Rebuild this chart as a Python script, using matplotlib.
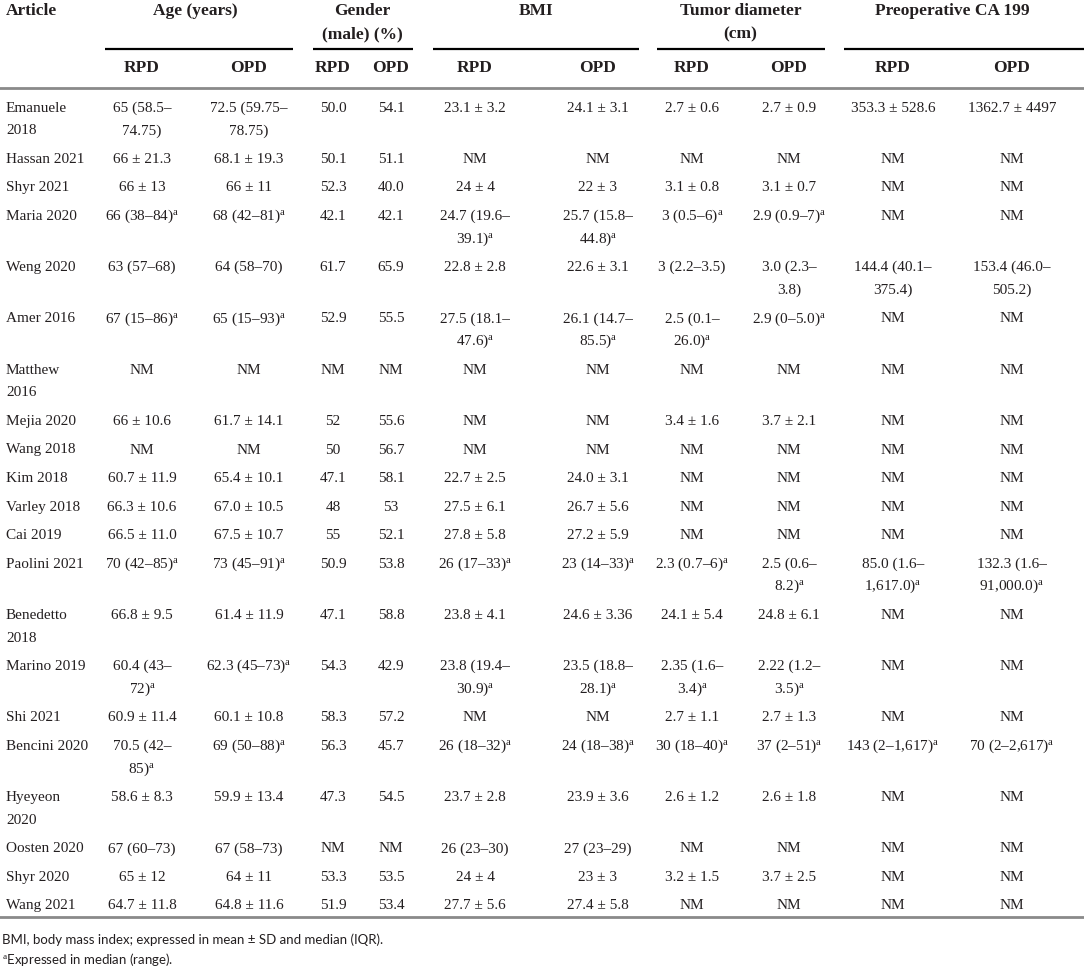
import matplotlib
matplotlib.use("Agg")
import matplotlib.pyplot as plt

plt.rcParams["font.family"] = ["Liberation Serif", "DejaVu Serif"]
plt.rcParams["mathtext.fontset"] = "custom"
plt.rcParams["mathtext.rm"] = "Liberation Serif"
plt.rcParams["mathtext.it"] = "Liberation Serif:italic"

# ---- table data ("^a" marks the superscript footnote) ----
groups = ["Age (years)", "Gender\n(male) (%)", "BMI", "Tumor diameter\n(cm)", "Preoperative CA 199"]
sub_labels = ["RPD", "OPD"]

articles = ["Emanuele\n2018", "Hassan 2021", "Shyr 2021", "Maria 2020", "Weng 2020", "Amer 2016",
            "Matthew\n2016", "Mejia 2020", "Wang 2018", "Kim 2018", "Varley 2018", "Cai 2019",
            "Paolini 2021", "Benedetto\n2018", "Marino 2019", "Shi 2021", "Bencini 2020",
            "Hyeyeon\n2020", "Oosten 2020", "Shyr 2020", "Wang 2021"]

age_rpd = ["65 (58.5–\n74.75)", "66 ± 21.3", "66 ± 13", "66 (38–84)^a", "63 (57–68)", "67 (15–86)^a",
           "NM", "66 ± 10.6", "NM", "60.7 ± 11.9", "66.3 ± 10.6", "66.5 ± 11.0", "70 (42–85)^a",
           "66.8 ± 9.5", "60.4 (43–\n72)^a", "60.9 ± 11.4", "70.5 (42–\n85)^a", "58.6 ± 8.3",
           "67 (60–73)", "65 ± 12", "64.7 ± 11.8"]
age_opd = ["72.5 (59.75–\n78.75)", "68.1 ± 19.3", "66 ± 11", "68 (42–81)^a", "64 (58–70)", "65 (15–93)^a",
           "NM", "61.7 ± 14.1", "NM", "65.4 ± 10.1", "67.0 ± 10.5", "67.5 ± 10.7", "73 (45–91)^a",
           "61.4 ± 11.9", "62.3 (45–73)^a", "60.1 ± 10.8", "69 (50–88)^a", "59.9 ± 13.4",
           "67 (58–73)", "64 ± 11", "64.8 ± 11.6"]
male_rpd = ["50.0", "50.1", "52.3", "42.1", "61.7", "52.9", "NM", "52", "50", "47.1", "48", "55",
            "50.9", "47.1", "54.3", "58.3", "56.3", "47.3", "NM", "53.3", "51.9"]
male_opd = ["54.1", "51.1", "40.0", "42.1", "65.9", "55.5", "NM", "55.6", "56.7", "58.1", "53", "52.1",
            "53.8", "58.8", "42.9", "57.2", "45.7", "54.5", "NM", "53.5", "53.4"]
bmi_rpd = ["23.1 ± 3.2", "NM", "24 ± 4", "24.7 (19.6–\n39.1)^a", "22.8 ± 2.8", "27.5 (18.1–\n47.6)^a",
           "NM", "NM", "NM", "22.7 ± 2.5", "27.5 ± 6.1", "27.8 ± 5.8", "26 (17–33)^a", "23.8 ± 4.1",
           "23.8 (19.4–\n30.9)^a", "NM", "26 (18–32)^a", "23.7 ± 2.8", "26 (23–30)", "24 ± 4", "27.7 ± 5.6"]
bmi_opd = ["24.1 ± 3.1", "NM", "22 ± 3", "25.7 (15.8–\n44.8)^a", "22.6 ± 3.1", "26.1 (14.7–\n85.5)^a",
           "NM", "NM", "NM", "24.0 ± 3.1", "26.7 ± 5.6", "27.2 ± 5.9", "23 (14–33)^a", "24.6 ± 3.36",
           "23.5 (18.8–\n28.1)^a", "NM", "24 (18–38)^a", "23.9 ± 3.6", "27 (23–29)", "23 ± 3", "27.4 ± 5.8"]
tumor_rpd = ["2.7 ± 0.6", "NM", "3.1 ± 0.8", "3 (0.5–6)^a", "3 (2.2–3.5)", "2.5 (0.1–\n26.0)^a",
             "NM", "3.4 ± 1.6", "NM", "NM", "NM", "NM", "2.3 (0.7–6)^a", "24.1 ± 5.4",
             "2.35 (1.6–\n3.4)^a", "2.7 ± 1.1", "30 (18–40)^a", "2.6 ± 1.2", "NM", "3.2 ± 1.5", "NM"]
tumor_opd = ["2.7 ± 0.9", "NM", "3.1 ± 0.7", "2.9 (0.9–7)^a", "3.0 (2.3–\n3.8)", "2.9 (0–5.0)^a",
             "NM", "3.7 ± 2.1", "NM", "NM", "NM", "NM", "2.5 (0.6–\n8.2)^a", "24.8 ± 6.1",
             "2.22 (1.2–\n3.5)^a", "2.7 ± 1.3", "37 (2–51)^a", "2.6 ± 1.8", "NM", "3.7 ± 2.5", "NM"]
ca_rpd = ["353.3 ± 528.6", "NM", "NM", "NM", "144.4 (40.1–\n375.4)", "NM", "NM", "NM", "NM", "NM",
          "NM", "NM", "85.0 (1.6–\n1,617.0)^a", "NM", "NM", "NM", "143 (2–1,617)^a", "NM", "NM", "NM", "NM"]
ca_opd = ["1362.7 ± 4497", "NM", "NM", "NM", "153.4 (46.0–\n505.2)", "NM", "NM", "NM", "NM", "NM",
          "NM", "NM", "132.3 (1.6–\n91,000.0)^a", "NM", "NM", "NM", "70 (2–2,617)^a", "NM", "NM", "NM", "NM"]

footnotes = ["BMI, body mass index; expressed in mean ± SD and median (IQR).",
             "^aExpressed in median (range)."]

columns = [age_rpd, age_opd, male_rpd, male_opd, bmi_rpd, bmi_opd,
           tumor_rpd, tumor_opd, ca_rpd, ca_opd]

# ---- layout (pixel coordinates) ----
W, H = 1084, 976
col_x = [142, 249, 333, 391, 475, 598, 692, 789, 893, 1012]
underlines = [(105, 293), (313, 413), (433, 639), (657, 825), (844, 1084)]
ink = "#231f20"
sup = r"$^{\mathrm{a}}$"

fig = plt.figure(figsize=(W / 100, H / 100), dpi=100)
ax = fig.add_axes([0, 0, 1, 1])
ax.set_xlim(0, W)
ax.set_ylim(H, 0)
ax.axis("off")


def put(x, y, s, ha="center", **kw):
    ax.text(x, y, s.replace("^a", sup), ha=ha, va="center", color=ink, **kw)


# header
put(6, 11, "Article", ha="left", fontsize=12.5, fontweight="bold")
for i, g in enumerate(groups):
    cx = (col_x[2 * i] + col_x[2 * i + 1]) / 2
    for k, line in enumerate(g.split("\n")):
        put(cx, 11 + 23 * k, line, fontsize=12.5, fontweight="bold")
    x0, x1 = underlines[i]
    ax.plot([x0, x1], [49, 49], color="black", lw=1.6, solid_capstyle="butt")
for i, x in enumerate(col_x):
    put(x, 68, sub_labels[i % 2], fontsize=12.5, fontweight="bold")
ax.plot([0, W], [88, 88], color="#8a8a8a", lw=2.0)

# body
y = 108
row_pitch, line_gap = 28.5, 22.8
for r, art in enumerate(articles):
    cells = [art] + [c[r] for c in columns]
    n = max(len(c.split("\n")) for c in cells)
    for k, line in enumerate(art.split("\n")):
        put(6, y + line_gap * k, line, ha="left", fontsize=11)
    for x, col in zip(col_x, columns):
        for k, line in enumerate(col[r].split("\n")):
            put(x, y + line_gap * k, line, fontsize=11)
    y += row_pitch + line_gap * (n - 1)

ax.plot([0, W], [917, 917], color="#8a8a8a", lw=2.0)

# footnotes
for k, note in enumerate(footnotes):
    ax.text(2, 940 + 19 * k, note.replace("^a", sup), ha="left", va="center",
            color=ink, fontsize=9.5, family=["Lato", "DejaVu Sans"])

fig.savefig("out.png", dpi=100)
